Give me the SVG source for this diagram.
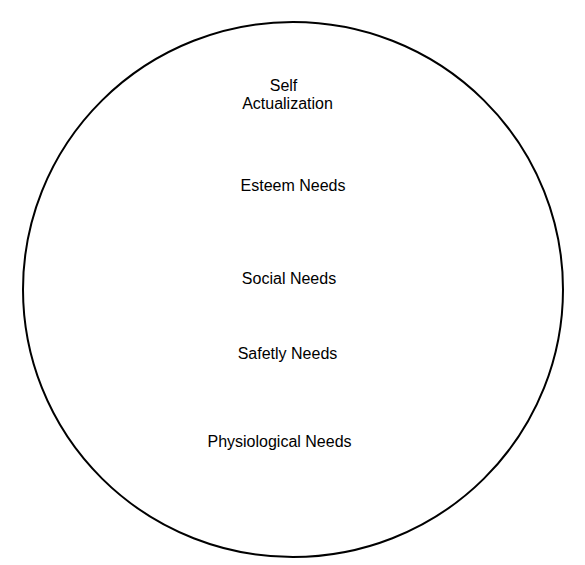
<svg xmlns="http://www.w3.org/2000/svg" width="585" height="565" viewBox="0 0 585 565">
<style>
.t{font-family:"Liberation Sans",Arial,sans-serif;font-size:16px;fill:#000;text-anchor:middle}
.c{fill:#fff;stroke:#000;stroke-width:2}
</style>
<rect width="585" height="565" fill="#fff"/>
<g id="circle"><ellipse class="c" cx="293" cy="289.5" rx="270" ry="267.5"/></g>
<g id="connectors"></g>
<g id="self-actualization"><text class="t" x="283.5" y="91">Self</text><text class="t" x="287.5" y="109">Actualization</text></g>
<g id="esteem"><text class="t" x="293" y="191">Esteem Needs</text></g>
<g id="social"><text class="t" x="289" y="284">Social Needs</text></g>
<g id="safety"><text class="t" x="287.5" y="359">Safetly Needs</text></g>
<g id="physiological"><text class="t" x="279.5" y="447">Physiological Needs</text></g>
</svg>
